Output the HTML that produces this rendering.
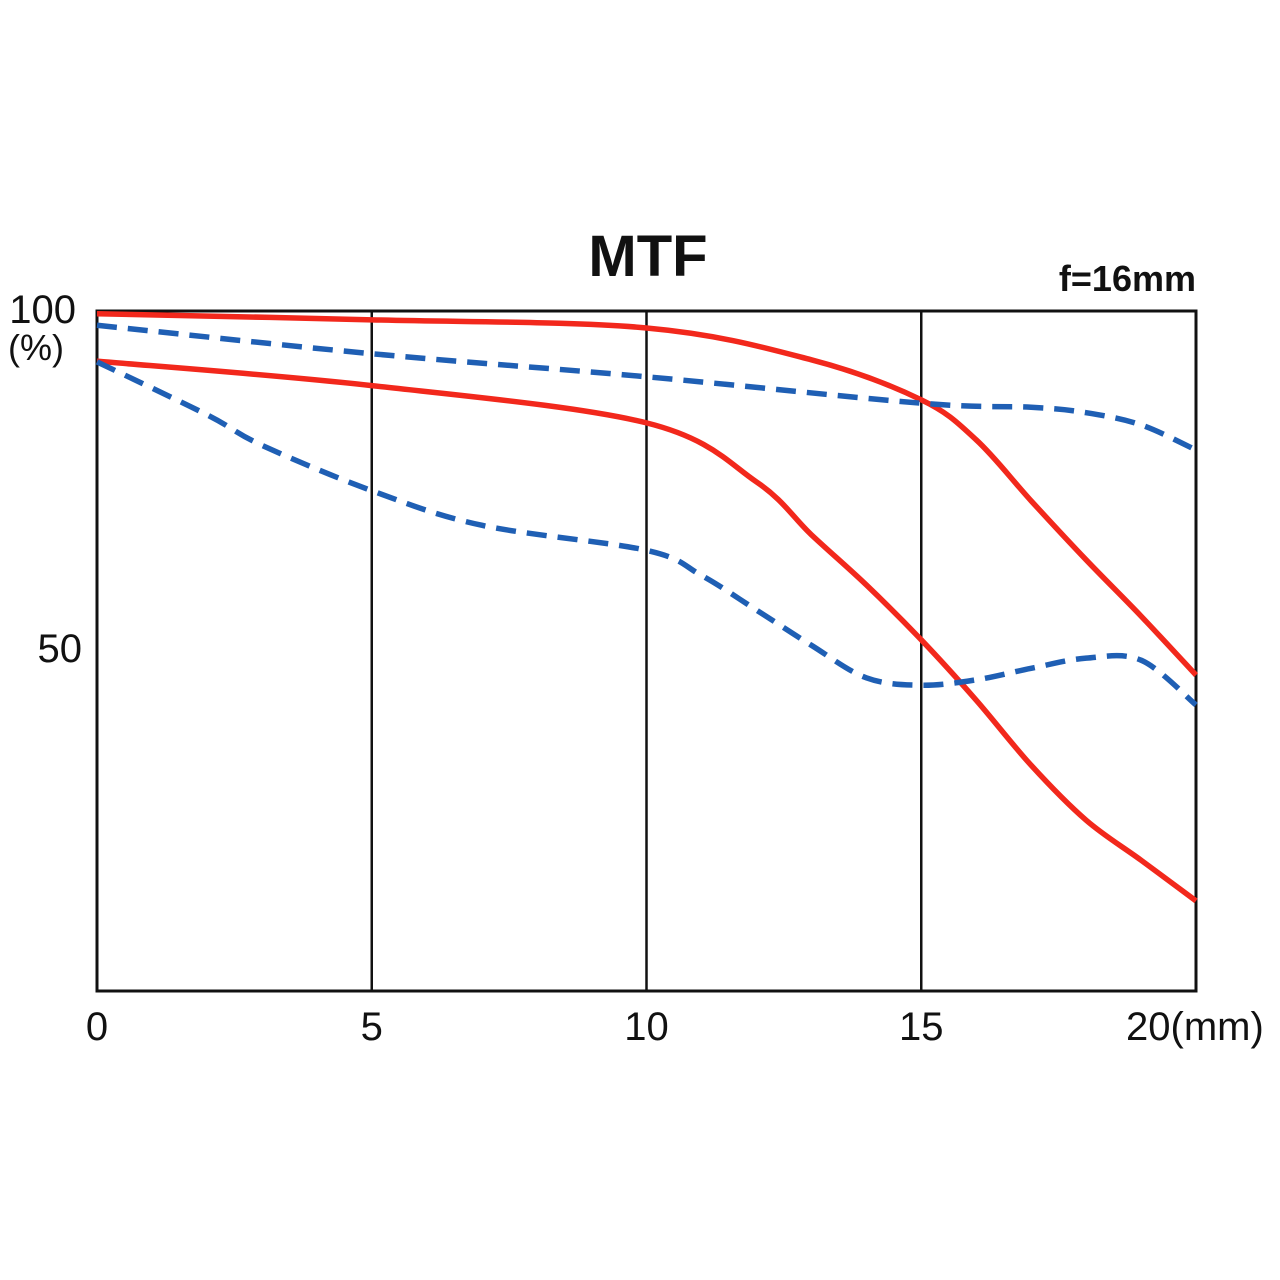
<!DOCTYPE html>
<html><head><meta charset="utf-8"><style>
html,body{margin:0;padding:0;background:#fff}
svg{display:block}
text{font-family:"Liberation Sans",sans-serif;fill:#111}
</style></head><body>
<svg id="chart" width="1280" height="1280" viewBox="0 0 1280 1280">
<rect x="0" y="0" width="1280" height="1280" fill="#fff"/>
<text x="648" y="276" font-size="58" font-weight="bold" text-anchor="middle">MTF</text>
<text x="1196" y="291" font-size="36" font-weight="bold" text-anchor="end">f=16mm</text>
<g id="grid"></g>
<g id="series"></g>
<g id="labels"></g>
</svg>
<script>
const xTicks=[0,5,10,15,20];
const xTickLabels=["0","5","10","15","20(mm)"];
const yTicks=[100,50];
const yTickLabels=["100","50"];
const redUpperX=[0,5,10,13,15,16,17,18,19,20];
const redUpper=[99.6,98.7,97.5,92.8,86.9,81,72,63.3,55,46.3];
const redLowerX=[0,5,10,12,13,14,15,16,17,18,19,20];
const redLower=[92.6,89,83.5,74.8,67,59.6,51.5,42.6,33,24.9,19,13];
const blueUpperX=[0,5,10,15,17,18,19,20];
const blueUpper=[97.9,93.7,90.3,86.4,85.8,85,83.2,79.5];
const blueLowerX=[0,2,3,5,7,10,11,12,13,14,15,16,17,18,19,20];
const blueLower=[92.5,84.7,80.2,73.5,68.4,64.7,61,55.9,50.7,45.9,44.8,45.6,47.3,48.8,48.5,41.9];

const X0=97,X1=1196,Y0=989,Y100=311;
const sx=v=>X0+(X1-X0)*v/20;
const sy=v=>Y0-(Y0-Y100)*v/100;
const NS="http://www.w3.org/2000/svg";
function mk(tag,attrs,parent){const e=document.createElementNS(NS,tag);for(const k in attrs)e.setAttribute(k,attrs[k]);parent.appendChild(e);return e;}
const grid=document.getElementById('grid'),series=document.getElementById('series'),labels=document.getElementById('labels');

const frame=mk('rect',{x:X0,y:Y100,width:X1-X0,height:Y0+2-Y100,fill:'none',stroke:'#111','stroke-width':3},grid);


xTicks.forEach((t,i)=>{
  if(i>0&&i<xTicks.length-1){
    const l=mk('line',{x1:sx(t),x2:sx(t),y1:Y100,y2:Y0+2,stroke:'#111','stroke-width':2.5},grid);
    
    
  }
  const last=i===xTicks.length-1;
  const tx=mk('text',{x:last?sx(t)-70:sx(t),y:1040,'font-size':40,'text-anchor':last?'start':'middle'},labels);
  tx.textContent=xTickLabels[i];
  
  
});
yTicks.forEach((t,i)=>{
  const tx=mk('text',{x:i===0?76:82,y:sy(t)+12,'font-size':40,'text-anchor':'end'},labels);
  tx.textContent=yTickLabels[i];
  
  
});
const unit=mk('text',{x:36,y:360,'font-size':36,'text-anchor':'middle'},labels);
unit.textContent="(%)";



function smooth(px,py){
  const p=px.map((x,i)=>[sx(x),sy(py[i])]);
  let d=`M${p[0][0]},${p[0][1]}`;
  for(let i=0;i<p.length-1;i++){
    const a=p[i-1]||p[i],b=p[i],c=p[i+1],e=p[i+2]||c;
    const c1=[b[0]+(c[0]-a[0])/6,b[1]+(c[1]-a[1])/6];
    const c2=[c[0]-(e[0]-b[0])/6,c[1]-(e[1]-b[1])/6];
    d+=` C${c1[0]},${c1[1]} ${c2[0]},${c2[1]} ${c[0]},${c[1]}`;
  }
  return d;
}
const defs=[
 [redUpperX,redUpper,'#f2281c',null,'red-upper-line'],
 [redLowerX,redLower,'#f2281c',null,'red-lower-line'],
 [blueUpperX,blueUpper,'#1f5fb4','20 11','blue-upper-dashed-line'],
 [blueLowerX,blueLower,'#1f5fb4','20 11','blue-lower-dashed-line']
];
defs.forEach(([px,py,col,dash,name])=>{
  const a={d:smooth(px,py),fill:'none',stroke:col,'stroke-width':5.5};
  if(dash)a['stroke-dasharray']=dash;
  const p=mk('path',a,series);
  
  
});
</script>
</body></html>
